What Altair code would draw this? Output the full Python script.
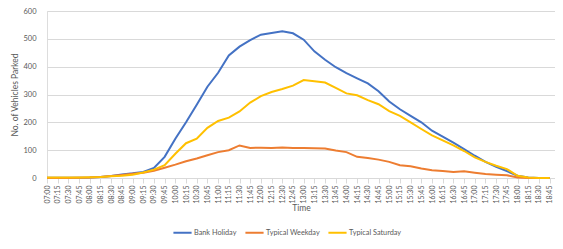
import altair as alt
import pandas as pd

times = ["07:00","07:15","07:30","07:45","08:00","08:15","08:30","08:45",
         "09:00","09:15","09:30","09:45","10:00","10:15","10:30","10:45",
         "11:00","11:15","11:30","11:45","12:00","12:15","12:30","12:45",
         "13:00","13:15","13:30","13:45","14:00","14:15","14:30","14:45",
         "15:00","15:15","15:30","15:45","16:00","16:15","16:30","16:45",
         "17:00","17:15","17:30","17:45","18:00","18:15","18:30","18:45"]

series_names = ["Bank Holiday", "Typical Weekday", "Typical Saturday"]
series_colors = ["#4472C4", "#ED7D31", "#FFC000"]

bank_holiday = [1,1,1,1,2,4,7,13,
                17,22,36,76,141,200,263,328,
                378,440,472,495,515,521,527,520,
                497,455,425,398,377,358,340,312,
                275,247,223,200,170,149,127,104,
                80,58,40,25,8,2,0,0]

typical_weekday = [0,0,0,1,2,4,7,11,
                   15,19,26,37,48,60,70,82,
                   93,100,117,108,109,108,110,108,
                   108,107,106,99,93,76,72,66,
                   58,46,42,34,28,25,22,24,
                   19,14,12,10,2,0,0,0]

typical_saturday = [2,2,2,2,3,4,6,8,
                    12,20,30,46,87,125,141,180,
                    205,217,239,271,294,309,320,332,
                    352,348,343,324,304,297,280,265,
                    240,223,200,176,153,135,117,97,
                    74,58,44,32,8,2,0,0]

rows = []
for name, vals in zip(series_names, [bank_holiday, typical_weekday, typical_saturday]):
    for i, (t, v) in enumerate(zip(times, vals)):
        rows.append({"idx": i, "time": t, "series": name, "value": v,
                     "order": series_names.index(name)})
df = pd.DataFrame(rows)

label_expr = "[" + ",".join("'" + t + "'" for t in times) + "][datum.value]"

FONT = "Lato"
GREY = "#595959"
GRID = "#D9D9D9"

chart = alt.Chart(df).mark_line(strokeWidth=2).encode(
    x=alt.X("idx:Q",
            scale=alt.Scale(domain=[0, 47.5], nice=False, zero=False),
            axis=alt.Axis(values=list(range(len(times))), labelExpr=label_expr,
                          labelAngle=270, labelFontSize=7, labelColor=GREY,
                          labelFont=FONT, labelPadding=2, labelOverlap=False,
                          labelFlush=False,
                          domainColor=GRID, tickColor=GRID, tickSize=5,
                          grid=False, title="Time", titleFont=FONT,
                          titleFontSize=8.5, titleFontWeight="normal",
                          titleColor=GREY, titlePadding=1)),
    y=alt.Y("value:Q",
            scale=alt.Scale(domain=[0, 600], nice=False),
            axis=alt.Axis(values=[0, 100, 200, 300, 400, 500, 600],
                          labelFontSize=7.5, labelColor=GREY, labelFont=FONT,
                          labelPadding=11, domain=False, ticks=False,
                          gridColor=GRID, title="No. of Vehicles Parked",
                          titleFont=FONT, titleFontSize=8.5,
                          titleFontWeight="normal", titleColor=GREY,
                          titlePadding=3)),
    color=alt.Color("series:N",
                    scale=alt.Scale(domain=series_names, range=series_colors),
                    legend=alt.Legend(orient="none", direction="horizontal",
                                      legendX=125, legendY=211, title=None,
                                      symbolType="stroke", symbolSize=330,
                                      symbolStrokeWidth=2, labelFont=FONT,
                                      labelFontSize=7.3, labelColor=GREY,
                                      labelOffset=1, columnPadding=4)),
    order=alt.Order("order:Q"),
    detail="series:N",
).properties(
    width=508, height=167,
    autosize=alt.AutoSizeParams(type="none"),
    padding={"left": 39, "top": 3, "right": 0, "bottom": 71},
).configure_view(stroke=None).configure(background="white")

chart.save("out.html", embed_options={"renderer": "svg", "actions": False})
